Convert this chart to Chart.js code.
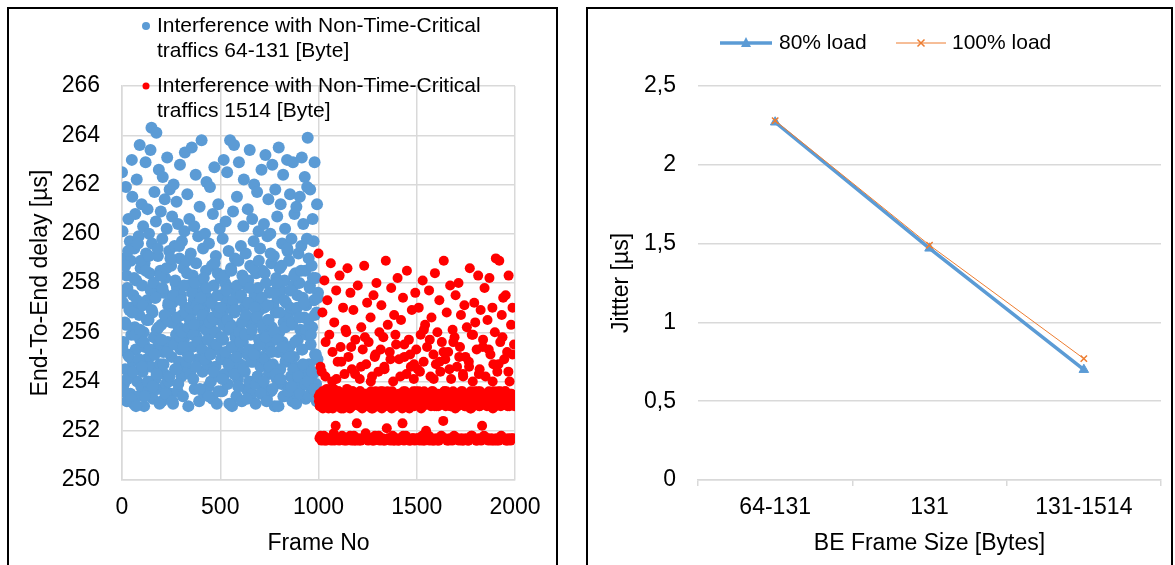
<!DOCTYPE html>
<html>
<head>
<meta charset="utf-8">
<script src="https://cdn.jsdelivr.net/npm/chart.js@4.4.1/dist/chart.umd.min.js"></script>
<style>
  body { margin: 0; background: #fff; width: 1175px; height: 565px; overflow: hidden; position: relative; }
  .frame { position: absolute; border: 2px solid #000; box-sizing: border-box; }
  canvas { position: absolute; }
</style>
</head>
<body>
<div class="frame" style="left:7px;top:7px;width:551px;height:590px"></div>
<div class="frame" style="left:586px;top:7px;width:587px;height:590px"></div>
<canvas id="delayChart" width="547" height="556" style="left:9px;top:9px"></canvas>
<canvas id="jitterChart" width="583" height="556" style="left:588px;top:9px"></canvas>

<script>
// end-to-end delay per frame: main samples every 2.5 frames,
// extra samples every 5 frames in between
const frameStep = 2.5;
const midStep = 5;
const blueStart = 0;
const redStart = 1000;

// frames 0-1000, small best-effort frames (64-131 byte)
const smallFrameDelay = [
  262.5, 260.1, 257.2, 255.6, 253.9, 259.0, 256.4, 254.5, 261.9, 258.3, 253.2, 257.8, 255.1, 260.6, 254.2, 256.9, 259.7, 253.5, 258.9, 255.9,
  263.0, 261.5, 254.8, 257.5, 253.1, 259.4, 256.2, 260.8, 255.3, 258.1, 262.2, 254.0, 257.0, 253.4, 259.9, 256.7, 263.6, 255.7, 258.6, 253.8,
  261.2, 257.9, 254.4, 260.3, 256.0, 253.0, 258.8, 255.4, 262.9, 259.2, 254.9, 257.3, 261.0, 253.6, 256.5, 260.0, 258.4, 255.0, 263.4, 254.6,
  264.3, 259.6, 256.8, 253.3, 258.0, 255.8, 261.7, 257.4, 254.1, 260.5, 264.1, 256.1, 253.7, 259.1, 255.5, 262.6, 257.7, 254.7, 258.5, 260.9,
  256.3, 253.2, 259.8, 262.3, 255.2, 257.6, 254.3, 261.4, 258.2, 253.9, 256.6, 260.2, 263.1, 255.6, 257.1, 254.0, 259.3, 261.8, 256.9, 253.5,
  258.7, 255.0, 260.7, 257.2, 253.1, 262.0, 256.4, 259.5, 254.5, 258.0, 255.9, 261.3, 257.8, 253.6, 260.4, 256.2, 254.8, 259.0, 262.8, 255.3,
  257.5, 254.2, 259.7, 256.7, 253.4, 258.6, 255.7, 260.1, 263.3, 257.0, 254.6, 256.0, 258.9, 261.6, 255.1, 253.0, 257.9, 260.6, 256.5, 254.3,
  259.2, 256.8, 263.5, 255.4, 258.3, 254.1, 257.3, 260.3, 253.7, 256.1, 262.4, 258.8, 255.8, 257.6, 254.9, 259.9, 256.3, 253.2, 261.1, 257.1,
  255.6, 258.1, 263.8, 256.6, 254.4, 259.4, 257.7, 253.5, 256.9, 260.0, 255.2, 258.5, 262.1, 254.7, 257.4, 256.2, 253.8, 259.6, 255.9, 261.9,
  257.2, 254.0, 256.4, 258.7, 253.3, 260.8, 255.5, 257.9, 262.7, 256.0, 254.6, 259.1, 257.0, 253.1, 255.3, 258.4, 261.2, 256.7, 254.2, 260.2,
  256.5, 258.2, 254.9, 257.5, 253.6, 259.8, 255.7, 263.0, 256.9, 254.3, 258.0, 260.5, 255.0, 257.3, 262.5, 253.9, 256.1, 259.3, 257.8, 254.8,
  263.8, 256.3, 258.6, 255.4, 253.0, 257.1, 260.9, 254.5, 263.6, 256.8, 259.0, 255.8, 257.6, 253.4, 261.5, 256.2, 254.1, 258.9, 262.9, 255.2,
  257.4, 254.7, 259.5, 256.0, 253.2, 258.3, 255.6, 260.3, 262.2, 257.0, 254.4, 256.6, 259.2, 253.7, 257.9, 255.1, 261.0, 258.1, 256.4, 254.0,
  263.4, 258.7, 255.9, 257.2, 253.5, 260.6, 256.3, 254.8, 259.7, 262.0, 257.5, 255.3, 253.1, 258.4, 256.7, 261.7, 254.2, 257.8, 260.1, 255.7,
  256.9, 259.4, 254.6, 257.3, 262.6, 255.0, 258.5, 253.8, 256.1, 260.4, 257.0, 254.9, 263.2, 258.0, 255.4, 253.3, 259.9, 256.5, 261.4, 254.3,
  257.6, 255.5, 260.0, 253.6, 258.8, 256.2, 262.8, 254.7, 257.1, 259.1, 255.8, 253.0, 261.8, 256.8, 258.2, 254.1, 260.7, 257.4, 255.2, 263.5,
  256.0, 258.6, 254.5, 261.2, 257.7, 253.9, 259.6, 255.6, 262.4, 256.4, 253.4, 258.1, 260.2, 254.8, 257.2, 255.1, 263.0, 259.3, 256.7, 253.7,
  258.9, 255.4, 261.6, 257.0, 254.2, 259.8, 256.3, 253.2, 262.9, 257.9, 255.0, 260.8, 254.6, 258.4, 256.9, 261.1, 253.5, 257.5, 255.7, 259.2,
  254.0, 258.0, 261.5, 256.1, 253.8, 259.5, 263.1, 255.3, 257.4, 260.4, 254.4, 256.6, 262.3, 258.5, 253.3, 257.1, 255.9, 261.9, 263.9, 256.5,
  259.0, 254.7, 257.8, 261.8, 255.5, 253.6, 258.7, 256.2, 260.6, 254.3, 259.7, 257.3, 262.9, 255.1, 258.2, 253.9, 256.8, 261.2, 254.9, 257.6
];
const smallFrameDelayMid = [
  255.4, 257.6, 253.6, 258.7, 256.3, 254.1, 259.3, 255.0, 257.0, 253.3,
  256.8, 254.4, 258.2, 255.9, 253.0, 257.3, 259.6, 254.9, 256.1, 258.9,
  254.6, 257.1, 255.6, 253.4, 258.5, 256.5, 254.0, 259.1, 255.3, 257.7,
  256.9, 253.8, 258.0, 255.1, 257.4, 254.3, 259.4, 256.2, 253.1, 258.3,
  255.7, 257.8, 254.7, 256.7, 253.5, 258.6, 255.2, 257.2, 254.2, 259.0,
  256.4, 253.2, 257.5, 255.5, 258.1, 254.5, 256.6, 253.9, 259.5, 255.8,
  257.3, 256.0, 255.4, 257.9, 256.8, 254.8, 258.4, 256.2, 255.0, 257.0,
  256.5, 257.6, 255.9, 256.3, 258.0, 254.6, 257.1, 255.6, 256.9, 253.7,
  257.4, 255.3, 256.7, 258.2, 254.9, 256.1, 257.8, 255.7, 253.4, 256.4,
  255.1, 257.2, 256.6, 254.4, 258.8, 256.0, 255.5, 257.5, 253.6, 256.8,
  257.0, 255.8, 254.1, 256.3, 258.3, 255.2, 257.7, 256.5, 254.7, 253.1,
  256.2, 258.5, 255.4, 257.3, 254.3, 256.9, 255.0, 257.9, 253.8, 256.0,
  255.6, 257.5, 256.4, 254.5, 258.1, 255.9, 256.7, 253.3, 257.2, 255.3,
  257.8, 254.8, 256.1, 258.6, 255.1, 257.0, 253.9, 256.6, 254.2, 258.9,
  255.5, 253.5, 257.4, 256.3, 254.0, 258.4, 255.8, 253.2, 257.1, 256.5,
  254.6, 259.2, 255.2, 253.7, 257.6, 256.0, 254.3, 258.0, 255.7, 253.0,
  256.8, 254.1, 258.7, 255.4, 253.4, 257.3, 256.2, 254.9, 259.4, 253.6,
  255.0, 257.7, 253.8, 256.4, 254.5, 258.3, 255.6, 253.1, 257.0, 254.2,
  256.6, 253.5, 258.5, 255.3, 254.7, 257.2, 253.9, 256.1, 259.8, 254.0,
  253.4, 257.9, 255.9, 254.4, 258.2, 253.7, 256.7, 255.1, 253.2, 257.4
];

// frames 1000-2000, large best-effort frames (1514 byte)
const largeFrameDelay = [
  259.2, 253.2, 251.7, 253.5, 254.6, 253.0, 251.6, 253.3, 256.8, 252.9, 253.6, 251.8, 258.1, 253.1, 254.2, 253.4, 251.6, 253.7, 257.3, 253.0,
  253.3, 251.7, 255.9, 253.1, 253.6, 258.8, 251.6, 253.2, 254.0, 252.9, 253.5, 251.9, 256.4, 253.0, 253.4, 252.2, 257.7, 253.3, 251.7, 254.8,
  253.1, 253.6, 251.6, 258.3, 253.2, 255.4, 252.9, 253.5, 251.8, 253.3, 257.0, 253.0, 251.7, 254.3, 253.4, 256.1, 253.1, 251.6, 253.7, 258.6,
  253.2, 255.0, 251.7, 253.5, 252.9, 257.6, 253.3, 251.6, 254.5, 253.0, 253.6, 256.9, 251.8, 253.2, 253.4, 255.7, 251.6, 253.1, 252.3, 253.5,
  257.9, 253.3, 251.7, 253.0, 254.1, 253.6, 251.6, 256.2, 253.2, 252.9, 255.3, 253.4, 251.7, 258.7, 253.1, 253.5, 251.9, 254.7, 253.3, 257.2,
  253.0, 251.6, 255.6, 253.4, 253.2, 251.7, 256.6, 253.6, 252.9, 254.2, 251.6, 253.3, 257.5, 253.1, 253.5, 251.8, 255.1, 253.2, 258.0, 253.0,
  251.7, 253.4, 254.4, 253.1, 256.0, 251.6, 253.6, 253.2, 257.1, 252.9, 251.7, 253.5, 255.8, 253.3, 254.6, 251.6, 253.0, 258.9, 253.4, 252.1,
  253.2, 256.3, 251.7, 253.5, 253.1, 255.2, 251.6, 253.3, 257.8, 252.9, 253.6, 251.8, 254.0, 253.2, 256.7, 251.6, 253.4, 253.0, 255.5, 251.7,
  253.3, 258.2, 253.1, 251.6, 254.9, 253.5, 253.2, 251.7, 256.5, 253.0, 253.4, 252.3, 257.4, 253.6, 251.6, 255.0, 253.1, 253.3, 251.8, 254.3,
  258.5, 253.2, 251.7, 253.5, 255.7, 252.9, 253.4, 251.6, 254.6, 253.1, 256.9, 253.3, 251.7, 253.6, 254.1, 253.0, 251.6, 257.6, 253.2, 255.3,
  253.4, 251.7, 254.5, 253.1, 257.0, 253.5, 251.6, 253.2, 255.9, 252.9, 253.3, 251.8, 258.1, 253.0, 254.8, 253.6, 251.6, 256.3, 253.2, 252.0,
  253.1, 255.4, 251.7, 253.4, 253.2, 257.7, 251.6, 253.5, 254.2, 253.0, 256.6, 251.7, 253.3, 253.6, 255.1, 251.6, 253.1, 258.4, 253.4, 254.7,
  251.7, 253.2, 256.0, 253.5, 253.0, 251.6, 257.3, 253.3, 254.4, 253.1, 251.8, 255.6, 253.4, 253.2, 252.4, 258.9, 253.6, 251.7, 254.9, 253.0,
  253.3, 256.8, 251.6, 253.1, 255.2, 253.5, 253.2, 251.7, 257.9, 253.0, 254.1, 253.4, 251.6, 256.1, 253.6, 253.1, 251.8, 255.8, 253.3, 257.5,
  253.2, 251.7, 254.6, 253.5, 253.0, 258.0, 251.6, 253.4, 255.4, 253.1, 256.7, 251.7, 253.3, 253.6, 254.3, 251.6, 253.2, 257.1, 253.0, 255.0,
  251.7, 253.4, 256.2, 253.1, 253.5, 251.6, 254.8, 253.2, 258.6, 252.9, 253.6, 251.8, 255.9, 253.3, 254.0, 253.0, 251.7, 257.2, 253.4, 256.4,
  253.1, 251.6, 255.3, 253.5, 253.2, 258.3, 251.7, 253.0, 254.5, 253.6, 256.9, 251.6, 253.3, 252.2, 253.1, 255.7, 253.4, 251.8, 257.8, 253.2,
  254.2, 253.5, 251.7, 253.0, 256.5, 253.3, 251.6, 253.6, 258.2, 253.1, 255.1, 253.4, 251.7, 253.2, 257.0, 252.9, 254.7, 251.6, 253.5, 256.0,
  253.3, 259.0, 251.7, 253.1, 254.4, 253.6, 253.2, 251.6, 258.9, 253.4, 255.6, 253.0, 251.8, 256.7, 253.5, 253.2, 257.4, 251.7, 254.9, 253.1,
  253.6, 257.5, 251.6, 253.3, 255.2, 253.0, 251.7, 258.3, 253.4, 254.0, 253.2, 251.6, 256.3, 253.5, 253.1, 257.0, 251.7, 253.3, 255.5, 253.0
];
const largeFrameDelayMid = [
  253.4, 253.0, 251.8, 254.4, 253.6, 253.2, 251.6, 255.6, 253.5, 253.1,
  252.9, 253.5, 251.7, 253.2, 255.2, 253.7, 251.6, 253.0, 254.1, 253.4,
  253.6, 251.7, 253.1, 254.8, 253.3, 252.9, 251.6, 253.5, 256.0, 253.2,
  253.0, 253.4, 251.8, 255.4, 253.6, 253.1, 251.6, 254.3, 253.3, 253.5,
  253.2, 251.6, 253.6, 254.6, 253.0, 253.4, 251.7, 255.8, 253.1, 253.5,
  253.5, 253.1, 251.7, 254.0, 253.3, 252.9, 251.6, 255.0, 253.6, 253.2,
  253.0, 251.8, 253.4, 255.3, 253.2, 253.6, 251.6, 254.5, 253.1, 253.5,
  253.6, 253.2, 251.7, 254.9, 253.0, 253.4, 251.6, 253.3, 255.9, 253.1,
  253.1, 251.6, 253.5, 254.2, 253.3, 252.9, 251.8, 255.5, 253.6, 253.2,
  253.4, 253.0, 251.6, 255.1, 253.5, 253.2, 251.7, 254.7, 253.1, 253.6,
  253.2, 251.7, 253.6, 254.4, 253.0, 253.4, 251.6, 256.1, 253.3, 253.1,
  253.5, 253.2, 251.8, 255.7, 253.1, 253.6, 251.6, 254.1, 253.0, 253.4,
  253.0, 251.6, 253.3, 254.8, 253.5, 253.1, 251.7, 255.2, 253.6, 253.2,
  253.6, 253.3, 251.6, 254.5, 253.0, 253.4, 251.7, 255.6, 253.2, 252.9,
  253.1, 251.7, 253.5, 255.0, 253.2, 253.6, 251.6, 254.2, 253.4, 253.0,
  253.4, 253.1, 251.6, 254.6, 253.5, 252.9, 251.8, 255.9, 253.3, 253.6,
  253.2, 251.6, 253.6, 254.3, 253.0, 253.4, 251.7, 255.4, 253.1, 253.5,
  253.5, 253.2, 251.7, 255.3, 253.3, 253.0, 251.6, 254.0, 253.6, 253.1,
  253.0, 251.6, 253.4, 254.7, 253.2, 253.6, 251.7, 255.8, 253.1, 253.3,
  253.6, 253.3, 251.6, 254.4, 253.0, 253.5, 251.7, 255.1, 253.2, 253.4
];

const smallFrameLegend = ['Interference with Non-Time-Critical', 'traffics 64-131 [Byte]'];
const largeFrameLegend = ['Interference with Non-Time-Critical', 'traffics 1514 [Byte]'];

// jitter vs. best-effort frame size
const frameSizes = ['64-131', '131', '131-1514'];
const load80 = [2.27, 1.47, 0.70];
const load100 = [2.28, 1.49, 0.77];

const FONT = "'Liberation Sans', Arial, sans-serif";
Chart.defaults.font.family = FONT;
Chart.defaults.font.size = 23;
Chart.defaults.color = '#000';

const GRID = '#d9d9d9';
const BLUE = '#5b9bd5';
const RED = '#ff0000';
const ORANGE = '#ed7d31';

function toPoints(values, mid, start) {
  const main = values.map((v, i) => ({ x: start + i * frameStep, y: v }));
  const extra = mid.map((v, i) => ({ x: start + frameStep / 2 + i * midStep, y: v }));
  return main.concat(extra);
}

// two-line legend entries drawn over the top of the plot
const delayLegend = {
  id: 'delayLegend',
  afterDraw(chart) {
    const ctx = chart.ctx;
    ctx.save();
    ctx.font = '21px ' + FONT;
    ctx.textBaseline = 'middle';
    chart.data.datasets.forEach((ds, i) => {
      const y = 17 + i * 60;
      ctx.fillStyle = ds.backgroundColor;
      ctx.beginPath();
      ctx.arc(137, y, ds.legendDot, 0, Math.PI * 2);
      ctx.fill();
      ctx.fillStyle = '#000';
      ds.legendLines.forEach((line, j) => ctx.fillText(line, 148, y + j * 25));
    });
    ctx.restore();
  }
};

const jitterLegend = {
  id: 'jitterLegend',
  afterDraw(chart) {
    const ctx = chart.ctx;
    const y = 34;
    ctx.save();
    ctx.font = '21px ' + FONT;
    ctx.textBaseline = 'middle';

    // 80% load: thick line with a triangle
    ctx.strokeStyle = BLUE;
    ctx.fillStyle = BLUE;
    ctx.lineWidth = 3.5;
    ctx.beginPath();
    ctx.moveTo(132, y);
    ctx.lineTo(184, y);
    ctx.stroke();
    ctx.beginPath();
    ctx.moveTo(158, y - 6);
    ctx.lineTo(163, y + 4);
    ctx.lineTo(153, y + 4);
    ctx.closePath();
    ctx.fill();
    ctx.fillStyle = '#000';
    ctx.fillText(chart.data.datasets[0].label, 191, y);

    // 100% load: thin line with a cross
    ctx.strokeStyle = ORANGE;
    ctx.lineWidth = 1;
    ctx.beginPath();
    ctx.moveTo(308, y);
    ctx.lineTo(358, y);
    ctx.stroke();
    ctx.lineWidth = 1.5;
    ctx.beginPath();
    ctx.moveTo(329.5, y - 3.5);
    ctx.lineTo(336.5, y + 3.5);
    ctx.moveTo(336.5, y - 3.5);
    ctx.lineTo(329.5, y + 3.5);
    ctx.stroke();
    ctx.fillStyle = '#000';
    ctx.fillText(chart.data.datasets[1].label, 364, y);
    ctx.restore();
  }
};

new Chart(document.getElementById('delayChart'), {
  type: 'scatter',
  data: {
    datasets: [
      {
        label: smallFrameLegend.join(' '),
        legendLines: smallFrameLegend,
        legendDot: 4,
        data: toPoints(smallFrameDelay, smallFrameDelayMid, blueStart),
        backgroundColor: BLUE,
        pointRadius: 6,
        borderWidth: 0,
        order: 2
      },
      {
        label: largeFrameLegend.join(' '),
        legendLines: largeFrameLegend,
        legendDot: 3.5,
        data: toPoints(largeFrameDelay, largeFrameDelayMid, redStart),
        backgroundColor: RED,
        pointRadius: 5,
        borderWidth: 0,
        order: 1
      }
    ]
  },
  options: {
    animation: false,
    responsive: false,
    devicePixelRatio: 1,
    layout: { padding: { top: 77, right: 41, left: 0, bottom: 0 } },
    plugins: {
      legend: { display: false },
      tooltip: { enabled: false }
    },
    scales: {
      x: {
        type: 'linear',
        min: 0,
        max: 2000,
        ticks: { stepSize: 500, padding: 14, callback: (v) => String(v) },
        grid: { color: GRID, lineWidth: 1.5, drawTicks: false },
        border: { color: GRID, width: 1.5 },
        title: { display: true, text: 'Frame No', padding: { top: 0, bottom: 8 } },
        afterFit: (scale) => { scale.height = 85; }
      },
      y: {
        min: 250,
        max: 266,
        ticks: { stepSize: 2, padding: 22 },
        grid: { color: GRID, lineWidth: 1.5, drawTicks: false },
        border: { color: GRID, width: 1.5 },
        title: { display: true, text: 'End-To-End delay [µs]', padding: { top: 18, bottom: 0 } },
        afterFit: (scale) => { scale.width = 113; }
      }
    }
  },
  plugins: [delayLegend]
});

new Chart(document.getElementById('jitterChart'), {
  type: 'line',
  data: {
    labels: frameSizes,
    datasets: [
      {
        label: '80% load',
        data: load80,
        borderColor: BLUE,
        backgroundColor: BLUE,
        borderWidth: 3.5,
        pointStyle: 'triangle',
        pointRadius: 5.5,
        pointBorderWidth: 1,
        order: 2
      },
      {
        label: '100% load',
        data: load100,
        borderColor: ORANGE,
        backgroundColor: ORANGE,
        borderWidth: 1,
        pointStyle: 'crossRot',
        pointRadius: 4.5,
        pointBorderWidth: 1.5,
        order: 1
      }
    ]
  },
  options: {
    animation: false,
    responsive: false,
    devicePixelRatio: 1,
    layout: { padding: { top: 77, right: 10, left: 0, bottom: 0 } },
    plugins: {
      legend: { display: false },
      tooltip: { enabled: false }
    },
    scales: {
      x: {
        offset: true,
        ticks: { padding: 8 },
        grid: { offset: true, drawOnChartArea: false, drawTicks: true, tickLength: 6, color: GRID, lineWidth: 1.5 },
        border: { color: GRID, width: 1.5 },
        title: { display: true, text: 'BE Frame Size [Bytes]', padding: { top: 0, bottom: 8 } },
        afterFit: (scale) => { scale.height = 85; }
      },
      y: {
        min: 0,
        max: 2.5,
        ticks: {
          stepSize: 0.5,
          padding: 22,
          callback: (v) => String(v).replace('.', ',')
        },
        grid: { color: GRID, lineWidth: 1.5, drawTicks: false },
        border: { display: false },
        title: { display: true, text: 'Jittter [µs]', padding: { top: 20, bottom: 0 } },
        afterFit: (scale) => { scale.width = 110; }
      }
    }
  },
  plugins: [jitterLegend]
});
</script>
</body>
</html>
